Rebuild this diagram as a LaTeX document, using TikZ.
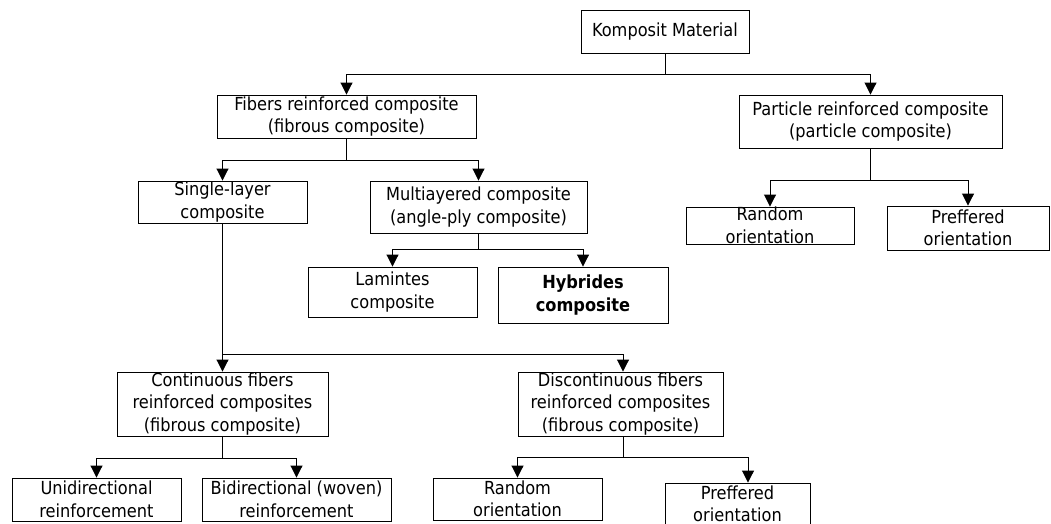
\documentclass[tikz,border=0pt]{standalone}
\usepackage{fontspec}
\setmainfont{DejaVu Sans Condensed}
\usetikzlibrary{arrows.meta}

\begin{document}
\begin{tikzpicture}[x=1pt, y=-1pt,
  box/.style={draw, line width=0.9pt, inner sep=0pt, align=center,
    font=\fontsize{18}{22.5}\selectfont},
  arr/.style={line width=0.9pt, -{Triangle[width=12pt, length=12pt]}}]
\useasboundingbox (0,0) rectangle (1051,523);

% top level
\node[box, minimum width=168, minimum height=43] (km) at (665,31.5) {Komposit Material};
\node[box, minimum width=259, minimum height=43] (fib) at (346.5,116.5) {Fibers reinforced composite\\(fibrous composite)};
\node[box, minimum width=263, minimum height=53] (par) at (870.5,121.5) {Particle reinforced composite\\(particle composite)};

% fibers branch
\node[box, minimum width=169, minimum height=42] (sgl) at (222.5,202) {Single-layer\\composite};
\node[box, minimum width=217, minimum height=52] (mul) at (478.5,207) {Multiayered composite\\(angle-ply composite)};
\node[box, minimum width=169, minimum height=50] (lam) at (392.5,292) {Lamintes\\composite};
\node[box, minimum width=170, minimum height=56] (hyb) at (583,295) {\bfseries Hybrides\\\bfseries composite};

% particle branch
\node[box, minimum width=168, minimum height=37] (prnd) at (770,225.5) {Random\\orientation};
\node[box, minimum width=162, minimum height=44] (ppre) at (968,228) {Preffered\\orientation};

% single-layer branch
\node[box, minimum width=211, minimum height=64] (con) at (222.5,404) {Continuous fibers\\reinforced composites\\(fibrous composite)};
\node[box, minimum width=205, minimum height=64] (dis) at (620.5,404) {Discontinuous fibers\\reinforced composites\\(fibrous composite)};
\node[box, minimum width=169, minimum height=43] (uni) at (96.5,499.5) {Unidirectional\\reinforcement};
\node[box, minimum width=189, minimum height=43] (bid) at (296.5,499.5) {Bidirectional (woven)\\reinforcement};
\node[box, minimum width=169, minimum height=42] (drnd) at (517.5,499) {Random\\orientation};
\node[box, minimum width=145, minimum height=42] (dpre) at (737.5,504) {Preffered\\orientation};

% connectors
\draw[arr] (km.south) -- ++(0,21) -| (fib.north);
\draw[arr] (km.south) -- ++(0,21) -| (par.north);
\draw[arr] (fib.south) -- ++(0,22) -| (sgl.north);
\draw[arr] (fib.south) -- ++(0,22) -| (mul.north);
\draw[arr] (mul.south) -- ++(0,16) -| (lam.north);
\draw[arr] (mul.south) -- ++(0,16) -| (hyb.north);
\draw[arr] (par.south) -- ++(0,32) -| (prnd.north);
\draw[arr] (par.south) -- ++(0,32) -| (ppre.north);
\draw[arr] (sgl.south) -- ++(0,131) -| (con.north);
\draw[arr] (sgl.south) -- ++(0,131) -| ([xshift=2.5pt]dis.north);
\draw[arr] (con.south) -- ++(0,22) -| (uni.north);
\draw[arr] (con.south) -- ++(0,22) -| (bid.north);
\draw[arr] ([xshift=2.5pt]dis.south) -- ++(0,21) -| (drnd.north);
\draw[arr] ([xshift=2.5pt]dis.south) -- ++(0,21) -| ([xshift=10.5pt]dpre.north);
\end{tikzpicture}
\end{document}
